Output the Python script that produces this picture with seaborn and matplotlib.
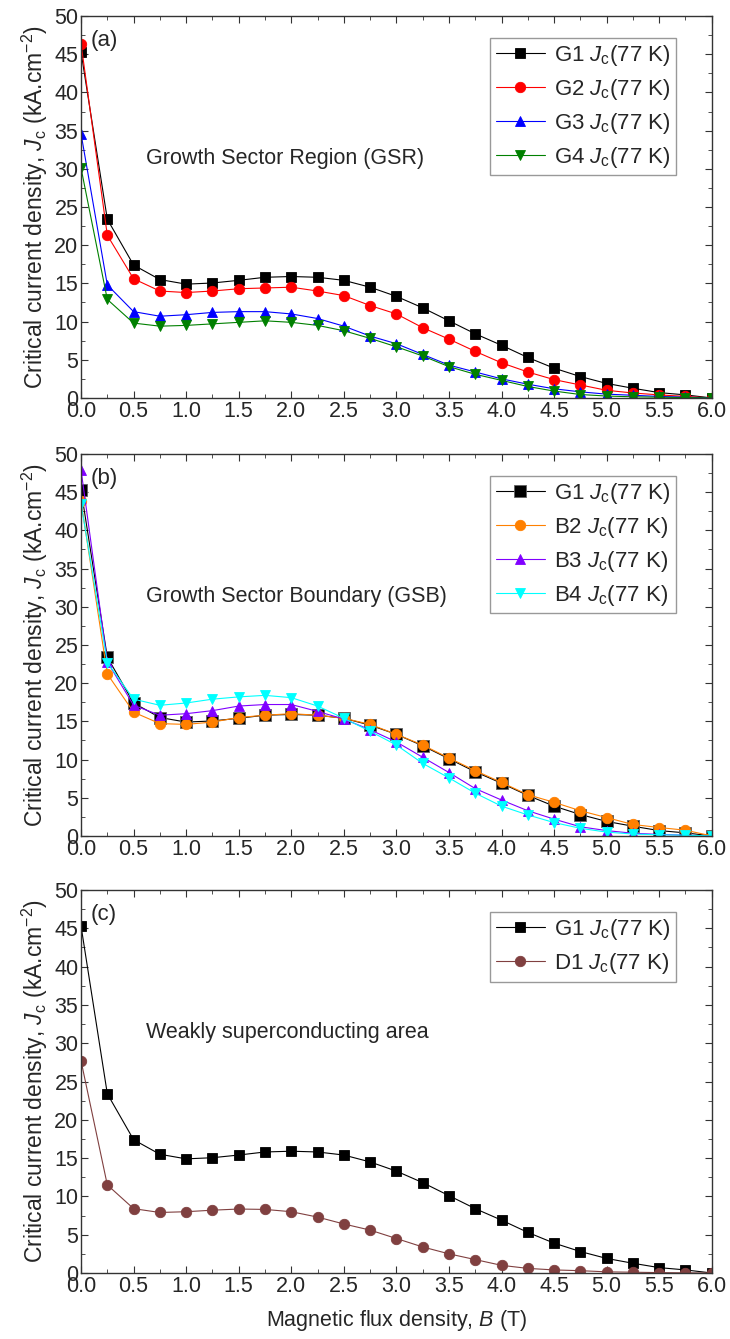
import numpy as np
import pandas as pd
import matplotlib
matplotlib.use("Agg")
import matplotlib.pyplot as plt
from matplotlib.ticker import MultipleLocator
import seaborn as sns

# field values (T)
B = [0.0, 0.25, 0.5, 0.75, 1.0, 1.25, 1.5, 1.75, 2.0, 2.25, 2.5, 2.75, 3.0,
     3.25, 3.5, 3.75, 4.0, 4.25, 4.5, 4.75, 5.0, 5.25, 5.5, 5.75, 6.0]

# Jc values (kA/cm^2)
G1 = [45.3, 23.4, 17.4, 15.5, 14.9, 15.05, 15.4, 15.8, 15.9, 15.8, 15.4, 14.5, 13.3,
      11.8, 10.1, 8.4, 6.9, 5.3, 3.9, 2.8, 1.9, 1.27, 0.7, 0.4, 0.0]
G2 = [46.4, 21.3, 15.6, 14.0, 13.8, 14.0, 14.3, 14.4, 14.5, 14.0, 13.4, 12.1, 11.0,
      9.2, 7.7, 6.1, 4.6, 3.4, 2.4, 1.7, 1.0, 0.65, 0.4, 0.2, 0.0]
G3 = [34.6, 14.8, 11.3, 10.7, 10.9, 11.2, 11.3, 11.3, 11.0, 10.4, 9.4, 8.1, 7.1,
      5.7, 4.3, 3.4, 2.5, 1.8, 1.2, 0.8, 0.5, 0.35, 0.2, 0.1, 0.0]
G4 = [30.1, 12.9, 9.8, 9.4, 9.5, 9.7, 9.9, 10.1, 9.9, 9.5, 8.8, 7.8, 6.7,
      5.5, 4.1, 3.1, 2.3, 1.5, 0.9, 0.45, 0.25, 0.15, 0.1, 0.05, 0.0]
B2 = [43.8, 21.2, 16.2, 14.7, 14.6, 14.9, 15.5, 15.8, 16.0, 15.8, 15.4, 14.6, 13.3,
      11.9, 10.2, 8.55, 7.0, 5.4, 4.4, 3.3, 2.4, 1.5, 1.1, 0.75, 0.0]
B3 = [47.9, 22.8, 17.1, 15.8, 16.0, 16.4, 17.0, 17.2, 17.2, 16.3, 15.3, 13.9, 12.3,
      10.3, 8.3, 6.2, 4.7, 3.3, 2.2, 1.2, 0.7, 0.35, 0.2, 0.1, 0.0]
B4 = [43.5, 22.7, 17.9, 17.1, 17.4, 17.9, 18.2, 18.4, 18.1, 17.0, 15.4, 13.7, 11.9,
      9.5, 7.6, 5.6, 3.9, 2.75, 1.75, 1.0, 0.5, 0.25, 0.15, 0.1, 0.0]
D1 = [27.7, 11.5, 8.4, 7.9, 8.0, 8.2, 8.35, 8.3, 8.0, 7.3, 6.4, 5.6, 4.5,
      3.4, 2.5, 1.75, 1.0, 0.6, 0.4, 0.3, 0.15, 0.1, 0.05, 0.02, 0.0]

panel_tags = ["(a)", "(b)", "(c)"]
panel_notes = ["Growth Sector Region (GSR)", "Growth Sector Boundary (GSB)",
               "Weakly superconducting area"]

panels = [
    [("G1", G1, "black", "s"), ("G2", G2, "red", "o"),
     ("G3", G3, "blue", "^"), ("G4", G4, "green", "v")],
    [("G1", G1, "black", "s"), ("B2", B2, "#FF8000", "o"),
     ("B3", B3, "#8000FF", "^"), ("B4", B4, "#00FFFF", "v")],
    [("G1", G1, "black", "s"), ("D1", D1, "#804040", "o")],
]

sns.set_style("ticks")
plt.rcParams["font.family"] = ["Liberation Sans", "DejaVu Sans"]
plt.rcParams["mathtext.fontset"] = "custom"
plt.rcParams["mathtext.rm"] = "Liberation Sans"
plt.rcParams["mathtext.it"] = "Liberation Sans:italic"
plt.rcParams["font.size"] = 15

fig = plt.figure(figsize=(7.3, 13.39), dpi=100)
boxes = [(0.988, 0.7028), (0.661, 0.3757), (0.3353, 0.0493)]
big_markers = [False, True, False]

for i, (top, bottom) in enumerate(boxes):
    ax = fig.add_axes([0.111, bottom, 0.864, top - bottom])
    for name, vals, col, mk in panels[i]:
        df = pd.DataFrame({"B": B, "Jc": vals})
        ms = 9 if (big_markers[i] and name == "G1") else 7.5
        mec = "#606060" if (big_markers[i] and name == "G1") else col
        sns.lineplot(data=df, x="B", y="Jc", ax=ax, color=col, marker=mk,
                     markersize=ms, markeredgecolor=mec, markeredgewidth=0.6,
                     linewidth=0.8, label=name + r" $J_\mathrm{c}$(77 K)")
    ax.set_xlim(0, 6)
    ax.set_ylim(0, 50)
    ax.xaxis.set_major_locator(MultipleLocator(0.5))
    ax.xaxis.set_minor_locator(MultipleLocator(0.25))
    ax.yaxis.set_major_locator(MultipleLocator(5))
    ax.yaxis.set_minor_locator(MultipleLocator(2.5))
    ax.tick_params(which="both", direction="in", top=True, right=True,
                   labelsize=15.5, color="#333333")
    ax.tick_params(which="major", length=5, pad=2)
    ax.tick_params(which="minor", length=3)
    for s in ax.spines.values():
        s.set_color("#333333")
        s.set_linewidth(1.0)
    ax.set_ylabel(r"Critical current density, $J_\mathrm{c}$ (kA.cm$^{-2}$)",
                  fontsize=16.5, labelpad=3)
    if i == 2:
        ax.set_xlabel(r"Magnetic flux density, $B$ (T)", fontsize=15.5, labelpad=8)
    else:
        ax.set_xlabel("")
    ax.text(0.015, 0.935, panel_tags[i], transform=ax.transAxes,
            fontsize=16, va="center", ha="left")
    ax.text(0.62, 31.4, panel_notes[i], fontsize=15.5, va="center", ha="left")
    ax.legend(loc="upper right", bbox_to_anchor=(0.95, 0.955), frameon=True,
              fancybox=False, edgecolor="#999999", framealpha=1,
              fontsize=16, handlelength=2.2, borderpad=0.25,
              labelspacing=0.4, handletextpad=0.4, borderaxespad=0.2)

fig.savefig("out.png", dpi=100)
